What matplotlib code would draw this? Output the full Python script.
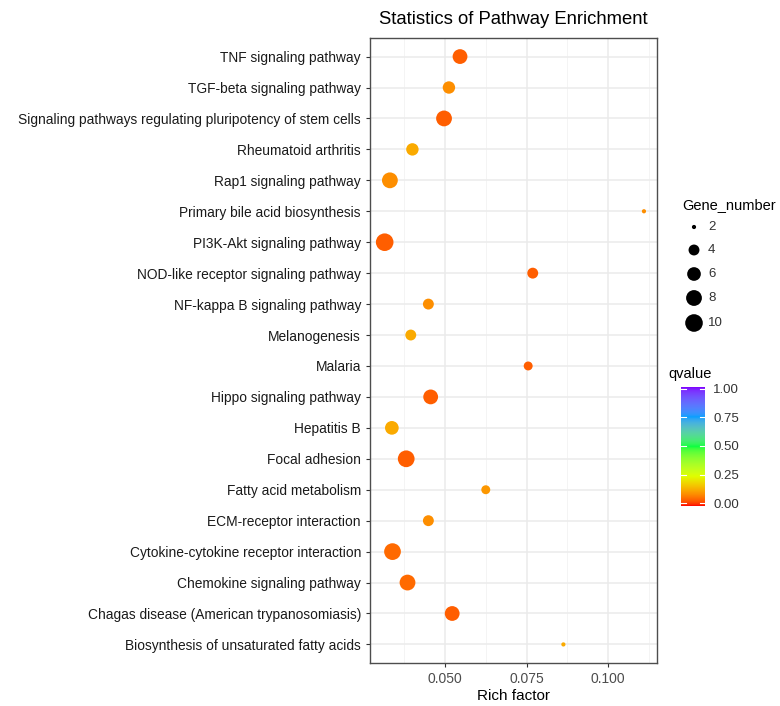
import numpy as np
import matplotlib
matplotlib.use("Agg")
import matplotlib.pyplot as plt
from matplotlib.colors import ListedColormap, hsv_to_rgb

plt.rcParams['font.family'] = ['Liberation Sans', 'DejaVu Sans']

# pathways, listed top to bottom as in the chart
pathways = [
    "TNF signaling pathway",
    "TGF-beta signaling pathway",
    "Signaling pathways regulating pluripotency of stem cells",
    "Rheumatoid arthritis",
    "Rap1 signaling pathway",
    "Primary bile acid biosynthesis",
    "PI3K-Akt signaling pathway",
    "NOD-like receptor signaling pathway",
    "NF-kappa B signaling pathway",
    "Melanogenesis",
    "Malaria",
    "Hippo signaling pathway",
    "Hepatitis B",
    "Focal adhesion",
    "Fatty acid metabolism",
    "ECM-receptor interaction",
    "Cytokine-cytokine receptor interaction",
    "Chemokine signaling pathway",
    "Chagas disease (American trypanosomiasis)",
    "Biosynthesis of unsaturated fatty acids",
]
rich_factor = [0.0546, 0.0512, 0.0497, 0.0400, 0.0331, 0.1110, 0.0315, 0.0769, 0.0449, 0.0395,
               0.0755, 0.0456, 0.0337, 0.0381, 0.0625, 0.0449, 0.0339, 0.0385, 0.0522, 0.0863]
gene_number = [7, 5, 8, 5, 8, 2, 10, 4, 4, 4, 3, 7, 6, 9, 3, 4, 9, 8, 7, 2]
qvalue = [0.05, 0.10, 0.05, 0.135, 0.10, 0.10, 0.05, 0.05, 0.10, 0.135,
          0.05, 0.05, 0.135, 0.05, 0.11, 0.10, 0.06, 0.06, 0.05, 0.135]

size_breaks = [2, 4, 6, 8, 10]
q_ticks = [0.00, 0.25, 0.50, 0.75, 1.00]
x_ticks = [0.050, 0.075, 0.100]


# --- rainbow(5, end=0.75) gradient interpolated in CIE Lab, like ggplot's gradientn ---
def _lin(c):
    c = np.asarray(c)
    return np.where(c <= 0.04045, c / 12.92, ((c + 0.055) / 1.055) ** 2.4)


def _gam(c):
    c = np.clip(c, 0, 1)
    return np.where(c <= 0.0031308, 12.92 * c, 1.055 * c ** (1 / 2.4) - 0.055)


M = np.array([[0.4124, 0.3576, 0.1805], [0.2126, 0.7152, 0.0722], [0.0193, 0.1192, 0.9505]])
WHITE = np.array([0.95047, 1.0, 1.08883])


def rgb2lab(rgb):
    xyz = M @ _lin(rgb) / WHITE
    f = np.where(xyz > 0.008856, np.cbrt(xyz), 7.787 * xyz + 16 / 116)
    return np.array([116 * f[1] - 16, 500 * (f[0] - f[1]), 200 * (f[1] - f[2])])


def lab2rgb(lab):
    fy = (lab[0] + 16) / 116
    f = np.array([fy + lab[1] / 500, fy, fy - lab[2] / 200])
    xyz = np.where(f ** 3 > 0.008856, f ** 3, (f - 16 / 116) / 7.787) * WHITE
    return _gam(np.linalg.solve(M, xyz))


stops = [rgb2lab(hsv_to_rgb([h, 1, 1])) for h in np.linspace(0, 0.75, 5)]
cols = []
for t in np.linspace(0, 1, 256):
    seg = min(int(t * 4), 3)
    u = t * 4 - seg
    cols.append(lab2rgb(stops[seg] * (1 - u) + stops[seg + 1] * u))
cmap = ListedColormap(cols)


def point_area(g):
    # area scale: diameter grows with sqrt of the gene count
    d_px = 4.2 + 13.4 * np.sqrt((np.asarray(g, float) - 2) / 8)
    return (d_px * 0.72) ** 2


fig = plt.figure(figsize=(7.8, 7.06), dpi=100)
ax = fig.add_axes([370 / 780, 1 - 663 / 706, 287 / 780, 625 / 706])

ypos = np.arange(len(pathways))[::-1]
ax.scatter(rich_factor, ypos, s=point_area(gene_number), c=qvalue, cmap=cmap,
           vmin=0, vmax=1, linewidths=0, zorder=3)

ax.set_xlim(0.027, 0.115)
ax.set_ylim(-0.6, len(pathways) - 0.4)
ax.set_yticks(ypos)
ax.set_yticklabels(pathways, fontsize=9.9, color="#1a1a1a")
ax.set_xticks(x_ticks)
ax.set_xticklabels(["%.3f" % v for v in x_ticks], fontsize=10, color="#4d4d4d")
ax.set_xticks([0.0375, 0.0625, 0.0875, 0.1125], minor=True)
ax.grid(True, which="major", color="#ebebeb", lw=1.1, zorder=0)
ax.grid(True, which="minor", axis="x", color="#f2f2f2", lw=0.6, zorder=0)
ax.tick_params(which="major", length=3, width=0.8, color="#333333")
ax.tick_params(which="minor", length=0)
for sp in ax.spines.values():
    sp.set_color("#4d4d4d")
    sp.set_linewidth(1.0)
ax.set_xlabel("Rich factor", fontsize=11, labelpad=2)
ax.set_title("Statistics of Pathway Enrichment", fontsize=13.3, pad=10)

# size legend
fig.text(682 / 780, 1 - 205 / 706, "Gene_number", fontsize=10.5, va="center")
leg = fig.add_axes([680 / 780, 1 - 335 / 706, 60 / 780, 120 / 706])
leg.set_xlim(0, 60)
leg.set_ylim(335, 215)
leg_y = [227, 250, 274, 298, 323]
leg.scatter([14] * len(size_breaks), leg_y, s=point_area(size_breaks), c="black", linewidths=0)
for yy, b in zip(leg_y, size_breaks):
    leg.text(28, yy, str(b), fontsize=9.5, va="center", color="#333333")
leg.axis("off")

# qvalue colour bar
fig.text(668 / 780, 1 - 374 / 706, "qvalue", fontsize=10.5, va="center")
cax = fig.add_axes([681 / 780, 1 - 506 / 706, 24 / 780, 119 / 706])
cax.imshow(np.linspace(0, 1, 256)[:, None], cmap=cmap, aspect="auto",
           origin="lower", extent=[0, 1, -0.026, 1.017], interpolation="bilinear")
for q in q_ticks:
    cax.plot([0, 0.2], [q, q], color="white", lw=0.8)
    cax.plot([0.8, 1], [q, q], color="white", lw=0.8)
cax.set_xlim(0, 1)
cax.set_ylim(-0.026, 1.017)
cax.set_xticks([])
cax.yaxis.tick_right()
cax.set_yticks(q_ticks)
cax.set_yticklabels(["%.2f" % q for q in q_ticks], fontsize=9.5, color="#333333")
cax.tick_params(length=0, pad=6)
for sp in cax.spines.values():
    sp.set_visible(False)

fig.savefig("out.png", dpi=100)
